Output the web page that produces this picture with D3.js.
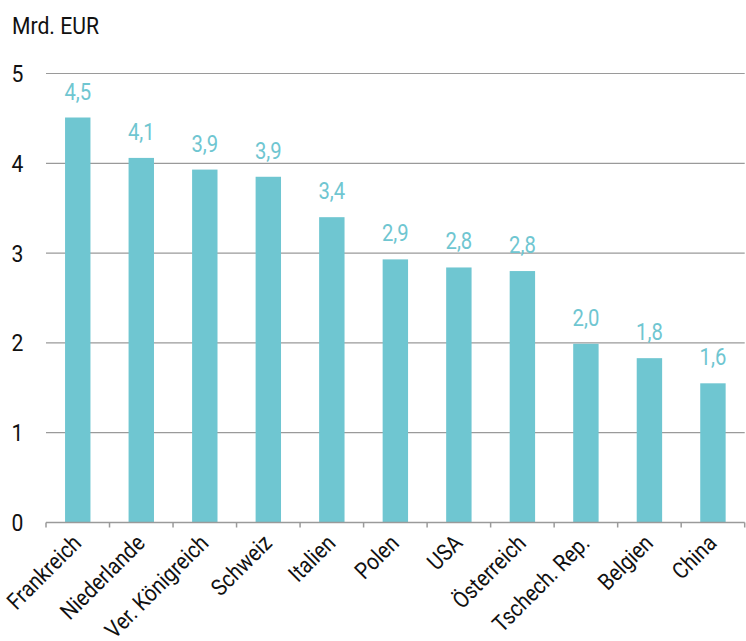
<!DOCTYPE html>
<html>
<head>
<meta charset="utf-8">
<script src="https://cdn.jsdelivr.net/npm/d3@7"></script>
<style>
  body { margin: 0; background: #fff; }
  text { font-family: "Roboto", "DejaVu Sans Condensed", sans-serif; }
</style>
</head>
<body>
<div id="chart"></div>
<script>
var countries = ["Frankreich", "Niederlande", "Ver. Königreich", "Schweiz", "Italien", "Polen",
                 "USA", "Österreich", "Tschech. Rep.", "Belgien", "China"];
var values = [4.51, 4.06, 3.93, 3.85, 3.40, 2.93, 2.84, 2.80, 1.99, 1.83, 1.55];
var valueLabels = ["4,5", "4,1", "3,9", "3,9", "3,4", "2,9", "2,8", "2,8", "2,0", "1,8", "1,6"];
var yTicks = [0, 1, 2, 3, 4, 5];

var svgWidth = 746, svgHeight = 641,
    margin = {top: 73.5, bottom: 118.5, left: 46, right: 1.3},
    w = svgWidth - margin.left - margin.right,
    h = svgHeight - margin.top - margin.bottom,
    barColor = "#6fc6d1",
    squeeze = 0.88;   // condensed look

var svg = d3.select("#chart").append("svg")
  .attr("width", svgWidth)
  .attr("height", svgHeight);

var g = svg.append("g")
  .attr("transform", "translate(" + margin.left + "," + margin.top + ")");

var xScale = d3.scaleBand().domain(countries).range([0, w]).padding(0);
var yScale = d3.scaleLinear().domain([0, 5]).range([h, 0]);
var barW = xScale.bandwidth() * 0.4;

// gridlines
g.selectAll(".grid")
  .data(yTicks.filter(d => d > 0))
  .enter().append("line")
  .attr("x1", 0).attr("x2", w)
  .attr("y1", d => yScale(d)).attr("y2", d => yScale(d))
  .attr("stroke", "#9a9a9a").attr("stroke-width", 1.2);

// y labels
g.selectAll(".ylab")
  .data(yTicks)
  .enter().append("text")
  .attr("transform", d => "translate(-28.5," + (yScale(d) + 8.5) + ") scale(" + squeeze + ",1)")
  .attr("text-anchor", "middle")
  .attr("font-size", 24)
  .attr("fill", "#111")
  .text(d => d);

svg.append("text")
  .attr("transform", "translate(12,33.5) scale(0.92,1)")
  .attr("font-size", 23)
  .attr("fill", "#111")
  .text("Mrd. EUR");

// bars
g.selectAll(".bar")
  .data(values)
  .enter().append("rect")
  .attr("x", (d, i) => xScale(countries[i]) + (xScale.bandwidth() - barW) / 2)
  .attr("y", d => yScale(d))
  .attr("width", barW)
  .attr("height", d => h - yScale(d))
  .attr("fill", barColor);

// value labels
g.selectAll(".vlab")
  .data(values)
  .enter().append("text")
  .attr("transform", (d, i) => "translate(" + (xScale(countries[i]) + xScale.bandwidth() / 2) + "," +
        (yScale(d) - 18) + ") scale(" + squeeze + ",1)")
  .attr("text-anchor", "middle")
  .attr("font-size", 23)
  .attr("fill", barColor)
  .text((d, i) => valueLabels[i]);

// x axis
var xAxis = g.append("g")
  .attr("transform", "translate(0," + h + ")");
xAxis.append("line")
  .attr("x1", 0).attr("x2", w)
  .attr("stroke", "#9a9a9a").attr("stroke-width", 1.5);
var ticks = countries.map(c => xScale(c)).concat([w]);
xAxis.selectAll(".tick")
  .data(ticks)
  .enter().append("line")
  .attr("x1", d => d).attr("x2", d => d)
  .attr("y1", 0).attr("y2", 5)
  .attr("stroke", "#9a9a9a").attr("stroke-width", 1.5);

xAxis.selectAll(".xlab")
  .data(countries)
  .enter().append("text")
  .attr("transform", d => "translate(" + (xScale(d) + xScale.bandwidth() / 2 + 5) + ",22) rotate(-45) scale(" + squeeze + ",1)")
  .attr("text-anchor", "end")
  .attr("font-size", 23)
  .attr("fill", "#111")
  .text(d => d);
</script>
</body>
</html>
